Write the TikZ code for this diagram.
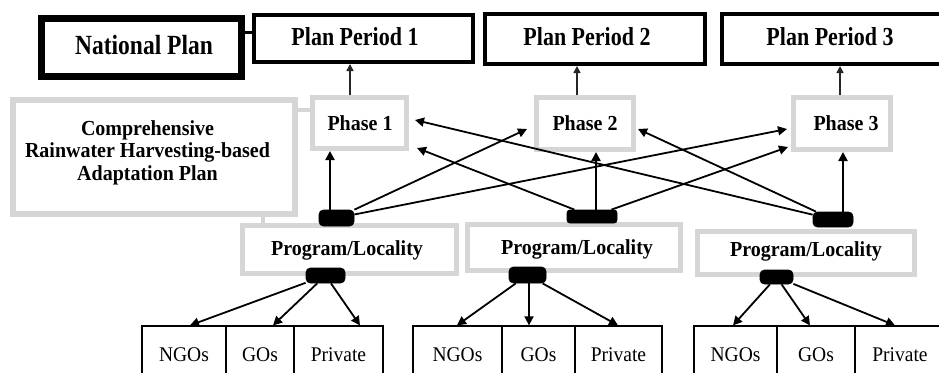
\documentclass[tikz,border=0pt]{standalone}
\usepackage{fontspec}
\setmainfont{Liberation Serif}
\usetikzlibrary{arrows.meta}
\definecolor{lgray}{HTML}{D6D6D6}
\newcommand{\tallA}[1]{\scalebox{1}[1.18]{#1}}
\newcommand{\tallB}[1]{\scalebox{1}[1.07]{#1}}
\begin{document}
\begin{tikzpicture}[x=1pt,y=-1pt,
  blackbox/.style={draw=black, rectangle, inner sep=0pt, line width=4pt},
  graybox/.style={draw=lgray, rectangle, inner sep=0pt, line width=5pt},
  cell/.style={draw=black, rectangle, inner sep=0pt, line width=1.3pt, minimum height=58pt, font=\fontsize{19.5}{23}\selectfont},
  pill/.style={fill=black, draw=black, rounded corners=4.5pt, inner sep=0pt, line width=0.8pt},
  pptxt/.style={font=\fontsize{22}{26}\selectfont\bfseries, inner sep=0pt, anchor=base},
  btxt/.style={font=\fontsize{20}{24}\selectfont\bfseries, inner sep=0pt, anchor=base},
  arr/.style={line width=1.8pt, -{Triangle[length=9pt,width=9pt]}},
  uparr/.style={line width=1.5pt, draw=black!85, -{Triangle[length=7pt,width=7pt]}},
  stub/.style={line width=3pt},
  graystub/.style={line width=4pt, draw=lgray},
]
\clip (0,0) rectangle (939,372);
\fill[white] (0,0) rectangle (939,372);

% top row
\node[blackbox, line width=7pt, minimum width=200pt, minimum height=58pt] (np) at (141.5,47.5) {};
\node[blackbox, minimum width=219pt, minimum height=47pt] (pp1) at (363.5,38.5) {};
\node[blackbox, minimum width=220pt, minimum height=50pt] (pp2) at (595,39) {};
\node[blackbox, minimum width=221pt, minimum height=50pt] (pp3) at (832.5,39) {};
\node[pptxt, font=\fontsize{23.5}{27}\selectfont\bfseries] (npt) at (144,54) {\tallA{National Plan}};
\node[pptxt] (pp1t) at (355,45) {\tallA{Plan Period 1}};
\node[pptxt] (pp2t) at (587,45) {\tallA{Plan Period 2}};
\node[pptxt] (pp3t) at (830,45) {\tallA{Plan Period 3}};

% comprehensive and phases
\node[graybox, line width=6pt, minimum width=282pt, minimum height=114pt] (comp) at (154,157) {};
\node[btxt] (ct1) at (147.5,135) {\tallB{Comprehensive}};
\node[btxt] (ct2) at (147.5,157.5) {\tallB{Rainwater Harvesting-based}};
\node[btxt] (ct3) at (147.5,180) {\tallB{Adaptation Plan}};

\node[graybox, minimum width=94pt, minimum height=51pt] (ph1) at (359.5,123) {};
\node[graybox, minimum width=97pt, minimum height=52pt] (ph2) at (585,123.5) {};
\node[graybox, minimum width=97pt, minimum height=52pt] (ph3) at (842,123.5) {};
\node[btxt] (ph1t) at (360,130) {\tallB{Phase 1}};
\node[btxt] (ph2t) at (585,130) {\tallB{Phase 2}};
\node[btxt] (ph3t) at (846,130) {\tallB{Phase 3}};

% program/locality
\node[graybox, minimum width=214pt, minimum height=48pt] (pl1) at (349.5,249.5) {};
\node[graybox, minimum width=213pt, minimum height=46pt] (pl2) at (574,247.5) {};
\node[graybox, minimum width=217pt, minimum height=43pt] (pl3) at (806,253) {};
\node[btxt] (pl1t) at (347,255) {\tallB{Program/Locality}};
\node[btxt] (pl2t) at (577,254) {\tallB{Program/Locality}};
\node[btxt] (pl3t) at (806,256) {\tallB{Program/Locality}};

% pills
\node[pill, minimum width=35pt, minimum height=16pt] (P1) at (336.5,218) {};
\node[pill, rounded corners=3pt, minimum width=50pt, minimum height=13pt] (P2) at (592,216.5) {};
\node[pill, minimum width=40pt, minimum height=15pt] (P3) at (833,219.5) {};
\node[pill, minimum width=39pt, minimum height=15pt] (L1) at (325.5,275.5) {};
\node[pill, minimum width=37pt, minimum height=16pt] (L2) at (527.5,275) {};
\node[pill, minimum width=33pt, minimum height=14pt] (L3) at (776.5,277) {};

% bottom cells
\node[cell, minimum width=84pt] (n1) at (184,355) {\tallB{NGOs}};
\node[cell, minimum width=68pt] (g1) at (260,355) {\tallB{GOs}};
\node[cell, minimum width=89pt] (r1) at (338.5,355) {\tallB{Private}};
\node[cell, minimum width=89pt] (n2) at (457.5,355) {\tallB{NGOs}};
\node[cell, minimum width=73pt] (g2) at (538.5,355) {\tallB{GOs}};
\node[cell, minimum width=87pt] (r2) at (618.5,355) {\tallB{Private}};
\node[cell, minimum width=83pt] (n3) at (735.5,355) {\tallB{NGOs}};
\node[cell, minimum width=78pt] (g3) at (816,355) {\tallB{GOs}};
\node[cell, minimum width=90pt] (r3) at (900,355) {\tallB{Private}};

% helper coordinates
\coordinate (s1) at (248,32);
\coordinate (s2) at (304,110);
\coordinate (s3) at (263,220);
\coordinate (u1) at (350,80);
\coordinate (u2) at (577,80);
\coordinate (u3) at (840,80);
\coordinate (v1) at (330,180);
\coordinate (v2) at (596,180);
\coordinate (v3) at (843,180);
\coordinate (t12) at (527,129);
\coordinate (t13) at (787,129);
\coordinate (t21) at (417,148);
\coordinate (t23) at (788,147);
\coordinate (t31) at (415,120);
\coordinate (t32) at (638,129);
\coordinate (b11) at (190,300);
\coordinate (b12) at (273,300);
\coordinate (b13) at (360,300);
\coordinate (b21) at (457,300);
\coordinate (b22) at (529,300);
\coordinate (b23) at (618,300);
\coordinate (b31) at (733,300);
\coordinate (b32) at (810,300);
\coordinate (b33) at (895,300);

% stubs
\draw[stub] (np.east |- s1) -- (pp1.west |- s1);
\draw[graystub] (comp.east |- s2) -- (ph1.west |- s2);
\draw[graystub] (comp.south -| s3) -- (pl1.north -| s3);

% phase to plan period
\draw[uparr] (ph1.north -| u1) -- (pp1.south -| u1);
\draw[uparr] (ph2.north -| u2) -- (pp2.south -| u2);
\draw[uparr] (ph3.north -| u3) -- (pp3.south -| u3);

% pills to phases
\draw[arr, line width=2.2pt] (P1.north -| v1) -- (ph1.south -| v1);
\draw[arr, line width=2.2pt] (P2.north -| v2) -- (ph2.south -| v2);
\draw[arr, line width=2.2pt] (P3.north -| v3) -- (ph3.south -| v3);
\draw[arr] (P1) -- (t12);
\draw[arr] (P1) -- (t13);
\draw[arr] (P2) -- (t21);
\draw[arr] (P2) -- (t23);
\draw[arr] (P3) -- (t31);
\draw[arr] (P3) -- (t32);

% lower pills to cells
\draw[arr] (L1) -- (n1.north -| b11);
\draw[arr] (L1) -- (g1.north -| b12);
\draw[arr] (L1) -- (r1.north -| b13);
\draw[arr] (L2) -- (n2.north -| b21);
\draw[arr] (L2.south -| b22) -- (g2.north -| b22);
\draw[arr] (L2) -- (r2.north -| b23);
\draw[arr] (L3) -- (n3.north -| b31);
\draw[arr] (L3) -- (g3.north -| b32);
\draw[arr] (L3) -- (r3.north -| b33);
\end{tikzpicture}
\end{document}
